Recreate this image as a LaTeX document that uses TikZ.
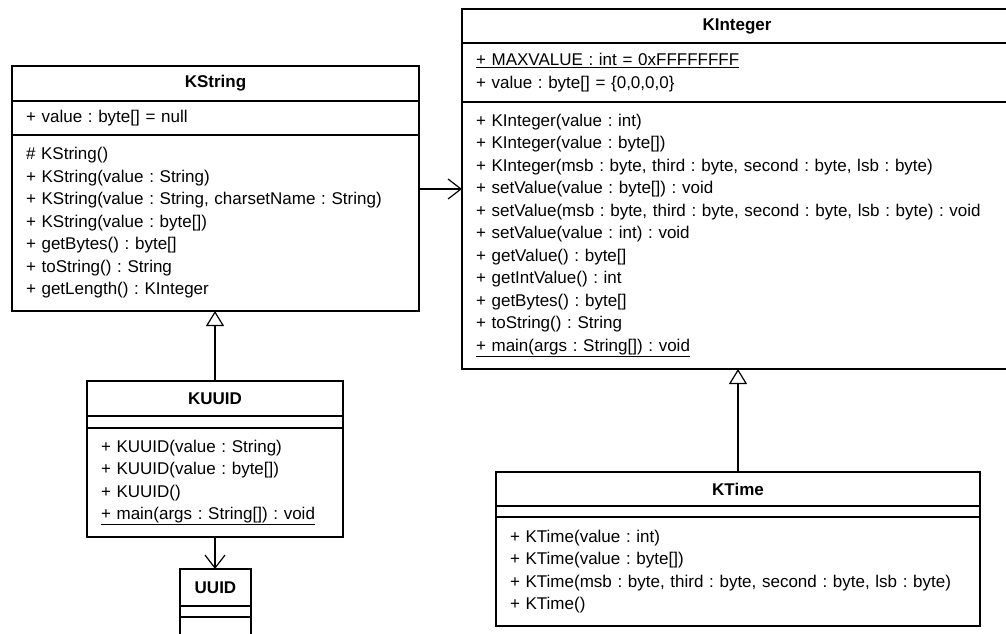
\documentclass[tikz,border=0pt]{standalone}
\usepackage{fontspec}
\setmainfont{Liberation Sans}
\usepackage{tikz}
\usetikzlibrary{arrows.meta, positioning}
\newcommand{\umlfont}{\fontsize{17}{22.5}\selectfont\frenchspacing}

\begin{document}
\begin{tikzpicture}[
    x=1pt, y=-1pt,
    ctitle/.style={draw, line width=1.3pt, outer sep=0pt, inner sep=0pt,
                   font=\umlfont\bfseries},
    comp/.style={draw, line width=1.3pt, outer sep=0pt, inner xsep=14pt,
                 inner ysep=0pt, align=left, font=\umlfont},
    frame/.style={draw, line width=2.6pt},
    assoc/.style={-{Straight Barb[length=13pt, width=20pt]}, line width=1.2pt},
    gen/.style={-{Triangle[open, length=15pt, width=18pt]}, line width=1.2pt},
]
    \clip (0,0) rectangle (1006,633);
    \fill[white] (0,0) rectangle (1006,633);

    % KString
    \node[ctitle, anchor=north west, minimum width=407pt, minimum height=35pt] (kstr) at (12,66) {KString};
    \node[comp, below=0pt of kstr, minimum width=407pt, text width=379pt, minimum height=34pt] (kstra)
        {+ value : byte[] = null};
    \node[comp, below=0pt of kstra, minimum width=407pt, text width=379pt, minimum height=176pt] (kstrm)
        {\# KString()\\
         + KString(value : String)\\
         + KString(value : String, charsetName : String)\\
         + KString(value : byte[])\\
         + getBytes() : byte[]\\
         + toString() : String\\
         + getLength() : KInteger};
    \draw[frame] (kstr.north west) rectangle (kstrm.south east);

    % KInteger
    \node[ctitle, anchor=north west, minimum width=550pt, minimum height=34pt] (kint) at (462,9) {KInteger};
    \node[comp, below=0pt of kint, minimum width=550pt, text width=522pt, minimum height=59pt] (kinta)
        {\underline{+ MAXVALUE : int = 0xFFFFFFFF}\\
         + value : byte[] = \{0,0,0,0\}};
    \node[comp, below=0pt of kinta, minimum width=550pt, text width=522pt, minimum height=267pt] (kintm)
        {+ KInteger(value : int)\\
         + KInteger(value : byte[])\\
         + KInteger(msb : byte, third : byte, second : byte, lsb : byte)\\
         + setValue(value : byte[]) : void\\
         + setValue(msb : byte, third : byte, second : byte, lsb : byte) : void\\
         + setValue(value : int) : void\\
         + getValue() : byte[]\\
         + getIntValue() : int\\
         + getBytes() : byte[]\\
         + toString() : String\\
         \underline{+ main(args : String[]) : void}};
    \draw[frame] (kint.north west) rectangle (kintm.south east);

    % KUUID
    \node[ctitle, anchor=north west, minimum width=256pt, minimum height=35pt] (kuuid) at (87,381) {KUUID};
    \node[comp, below=0pt of kuuid, minimum width=256pt, text width=228pt, minimum height=12pt] (kuuida) {};
    \node[comp, below=0pt of kuuida, minimum width=256pt, text width=228pt, minimum height=109pt] (kuuidm)
        {+ KUUID(value : String)\\
         + KUUID(value : byte[])\\
         + KUUID()\\
         \underline{+ main(args : String[]) : void}};
    \draw[frame] (kuuid.north west) rectangle (kuuidm.south east);

    % UUID
    \node[ctitle, anchor=north west, minimum width=71pt, minimum height=37pt] (uuid) at (180,569) {UUID};
    \node[comp, below=0pt of uuid, minimum width=71pt, text width=43pt, minimum height=11pt] (uuida) {};
    \node[comp, below=0pt of uuida, minimum width=71pt, text width=43pt, minimum height=33pt] (uuidm) {};
    \draw[frame] (uuid.north west) rectangle (uuidm.south east);

    % KTime
    \node[ctitle, anchor=north west, minimum width=484pt, minimum height=34pt] (ktime) at (496,472) {KTime};
    \node[comp, below=0pt of ktime, minimum width=484pt, text width=456pt, minimum height=11pt] (ktimea) {};
    \node[comp, below=0pt of ktimea, minimum width=484pt, text width=456pt, minimum height=109pt] (ktimem)
        {+ KTime(value : int)\\
         + KTime(value : byte[])\\
         + KTime(msb : byte, third : byte, second : byte, lsb : byte)\\
         + KTime()};
    \draw[frame] (ktime.north west) rectangle (ktimem.south east);

    % connectors
    \coordinate (kstrout) at ([yshift=34pt]kstrm.east);
    \draw[assoc] (kstrout) -- (kstrout -| kintm.west);
    \draw[gen] (kuuid.north) -- (kuuid.north |- kstrm.south);
    \draw[gen] (ktime.north) -- (ktime.north |- kintm.south);
    \draw[assoc] (kuuidm.south) -- (kuuidm.south |- uuid.north);
\end{tikzpicture}
\end{document}
